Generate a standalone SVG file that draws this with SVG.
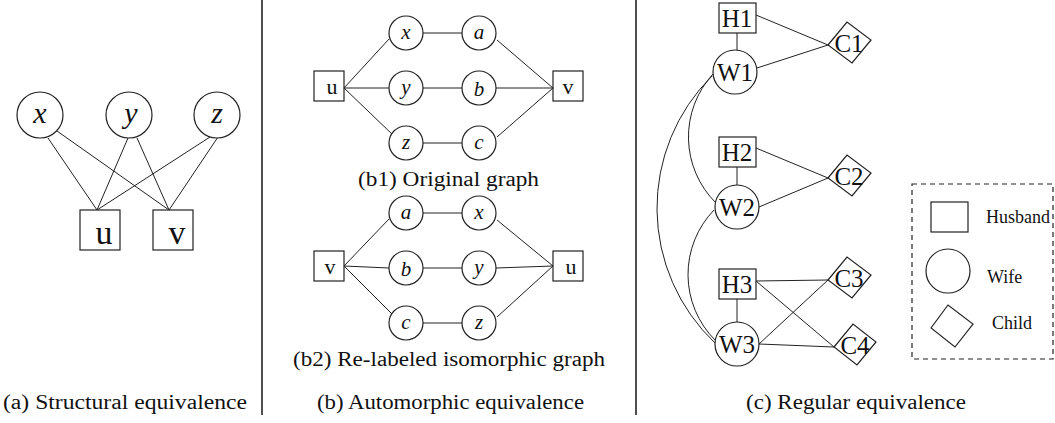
<svg xmlns="http://www.w3.org/2000/svg" width="1055" height="423" viewBox="0 0 1055 423">
<style>
.bg{fill:#fff}
.n{fill:#fff;stroke:#222;stroke-width:1.2}
.e{stroke:#222;stroke-width:1;fill:none}
.div{stroke:#222;stroke-width:1.6}
.t{font-family:"Liberation Serif","Times New Roman",serif;fill:#111;text-anchor:middle}
.i{font-style:italic}
.cap{font-family:"Liberation Serif","Times New Roman",serif;fill:#111;font-size:20px}
.leg{font-family:"Liberation Serif","Times New Roman",serif;fill:#111;font-size:18px}
</style>
<rect class="bg" x="0" y="0" width="1055" height="423"/>
<g id="dividers">
<line class="div" x1="262" y1="0" x2="262" y2="415"/>
<line class="div" x1="636" y1="0" x2="636" y2="415"/>
</g>
<g id="connectors">
<line class="e" x1="48" y1="138" x2="97" y2="210"/>
<line class="e" x1="57" y1="131" x2="169" y2="210"/>
<line class="e" x1="128" y1="138" x2="97" y2="210"/>
<line class="e" x1="137" y1="138" x2="169" y2="210"/>
<line class="e" x1="210" y1="137" x2="97" y2="210"/>
<line class="e" x1="218" y1="137" x2="169" y2="210"/>
<line class="e" x1="344" y1="88" x2="389" y2="39"/>
<line class="e" x1="344" y1="88" x2="389" y2="88"/>
<line class="e" x1="344" y1="88" x2="393" y2="135"/>
<line class="e" x1="423" y1="33" x2="462" y2="33"/>
<line class="e" x1="423" y1="88" x2="462" y2="88"/>
<line class="e" x1="423" y1="143" x2="462" y2="143"/>
<line class="e" x1="497" y1="40" x2="553" y2="88"/>
<line class="e" x1="496" y1="88" x2="553" y2="88"/>
<line class="e" x1="497" y1="137" x2="553" y2="88"/>
<line class="e" x1="344" y1="266" x2="389" y2="219"/>
<line class="e" x1="344" y1="266" x2="389" y2="268"/>
<line class="e" x1="344" y1="266" x2="393" y2="315"/>
<line class="e" x1="423" y1="213" x2="462" y2="213"/>
<line class="e" x1="423" y1="268" x2="462" y2="268"/>
<line class="e" x1="423" y1="323" x2="462" y2="323"/>
<line class="e" x1="497" y1="220" x2="553" y2="266"/>
<line class="e" x1="496" y1="268" x2="553" y2="266"/>
<line class="e" x1="497" y1="317" x2="553" y2="266"/>
<line class="e" x1="737" y1="33" x2="737" y2="50"/>
<line class="e" x1="737" y1="167" x2="737" y2="185"/>
<line class="e" x1="737" y1="299" x2="737" y2="322"/>
<line class="e" x1="756" y1="15" x2="828" y2="45"/>
<line class="e" x1="757" y1="68" x2="828" y2="45"/>
<line class="e" x1="756" y1="148" x2="828" y2="178"/>
<line class="e" x1="759" y1="207" x2="828" y2="178"/>
<line class="e" x1="756" y1="281" x2="828" y2="280"/>
<line class="e" x1="756" y1="281" x2="834" y2="347"/>
<line class="e" x1="759" y1="344" x2="828" y2="280"/>
<line class="e" x1="759" y1="344" x2="834" y2="347"/>
<path class="e" d="M713,74 A93,93 0 0 0 716,203"/>
<path class="e" d="M714,210 A93,93 0 0 0 715,340"/>
<path class="e" d="M712,76 A186,186 0 0 0 715,343"/>
</g>
<g id="node-a-x"><circle class="n" cx="40" cy="115" r="23"/><text class="t i" x="40" y="123" font-size="30">x</text></g>
<g id="node-a-y"><circle class="n" cx="129" cy="115" r="23"/><text class="t i" x="131" y="123" font-size="30">y</text></g>
<g id="node-a-z"><circle class="n" cx="217" cy="115" r="23"/><text class="t i" x="217" y="123" font-size="30">z</text></g>
<g id="node-a-u"><rect class="n" x="80" y="210" width="40" height="40"/><text class="t" x="104" y="244" font-size="34">u</text></g>
<g id="node-a-v"><rect class="n" x="153" y="210" width="40" height="40"/><text class="t" x="177" y="244" font-size="34">v</text></g>
<g id="node-b1-u"><rect class="n" x="314" y="71" width="30" height="30"/><text class="t" x="332" y="94" font-size="22">u</text></g>
<g id="node-b1-v"><rect class="n" x="553" y="71" width="30" height="30"/><text class="t" x="568" y="94" font-size="22">v</text></g>
<g id="node-b1-x"><circle class="n" cx="406" cy="33" r="17"/><text class="t i" x="406" y="39" font-size="21">x</text></g>
<g id="node-b1-a"><circle class="n" cx="479" cy="33" r="17"/><text class="t i" x="479" y="39" font-size="21">a</text></g>
<g id="node-b1-y"><circle class="n" cx="406" cy="88" r="17"/><text class="t i" x="406" y="94" font-size="21">y</text></g>
<g id="node-b1-b"><circle class="n" cx="479" cy="88" r="17"/><text class="t i" x="479" y="96" font-size="21">b</text></g>
<g id="node-b1-z"><circle class="n" cx="406" cy="143" r="17"/><text class="t i" x="406" y="149" font-size="21">z</text></g>
<g id="node-b1-c"><circle class="n" cx="479" cy="143" r="17"/><text class="t i" x="479" y="149" font-size="21">c</text></g>
<text class="cap" x="358" y="186" textLength="181" lengthAdjust="spacingAndGlyphs">(b1) Original graph</text>
<g id="node-b2-v"><rect class="n" x="314" y="251" width="30" height="30"/><text class="t" x="330" y="274" font-size="22">v</text></g>
<g id="node-b2-u"><rect class="n" x="553" y="251" width="30" height="30"/><text class="t" x="571" y="274" font-size="22">u</text></g>
<g id="node-b2-a"><circle class="n" cx="406" cy="213" r="17"/><text class="t i" x="406" y="219" font-size="21">a</text></g>
<g id="node-b2-x"><circle class="n" cx="479" cy="213" r="17"/><text class="t i" x="479" y="219" font-size="21">x</text></g>
<g id="node-b2-b"><circle class="n" cx="406" cy="268" r="17"/><text class="t i" x="406" y="276" font-size="21">b</text></g>
<g id="node-b2-y"><circle class="n" cx="479" cy="268" r="17"/><text class="t i" x="479" y="274" font-size="21">y</text></g>
<g id="node-b2-c"><circle class="n" cx="406" cy="323" r="17"/><text class="t i" x="406" y="329" font-size="21">c</text></g>
<g id="node-b2-z"><circle class="n" cx="479" cy="323" r="17"/><text class="t i" x="479" y="329" font-size="21">z</text></g>
<text class="cap" x="293" y="366" textLength="312" lengthAdjust="spacingAndGlyphs">(b2) Re-labeled isomorphic graph</text>
<g id="node-H1"><rect class="n" x="719" y="3" width="37" height="30"/><text class="t" x="737" y="27" font-size="25">H1</text></g>
<g id="node-W1"><circle class="n" cx="735" cy="72" r="22"/><text class="t" x="735" y="81" font-size="25">W1</text></g>
<g id="node-C1"><polygon class="n" points="828,45 847,22 871,40 852,63"/><text class="t" x="849" y="52" font-size="25">C1</text></g>
<g id="node-H2"><rect class="n" x="719" y="137" width="37" height="30"/><text class="t" x="737" y="161" font-size="25">H2</text></g>
<g id="node-W2"><circle class="n" cx="737" cy="207" r="22"/><text class="t" x="737" y="216" font-size="25">W2</text></g>
<g id="node-C2"><polygon class="n" points="828,178 847,155 871,173 852,196"/><text class="t" x="849" y="185" font-size="25">C2</text></g>
<g id="node-H3"><rect class="n" x="719" y="269" width="37" height="30"/><text class="t" x="737" y="293" font-size="25">H3</text></g>
<g id="node-W3"><circle class="n" cx="737" cy="344" r="22"/><text class="t" x="737" y="353" font-size="25">W3</text></g>
<g id="node-C3"><polygon class="n" points="828,280 847,257 871,275 852,298"/><text class="t" x="849" y="287" font-size="25">C3</text></g>
<g id="node-C4"><polygon class="n" points="834,347 853,324 876,342 857,365"/><text class="t" x="855" y="354" font-size="25">C4</text></g>
<g id="legend">
<rect x="912" y="184" width="141" height="175" fill="none" stroke="#222" stroke-width="1.2" stroke-dasharray="5,4"/>
<rect class="n" x="931" y="202" width="37" height="30"/>
<text class="leg" x="986" y="223">Husband</text>
<circle class="n" cx="948" cy="271" r="22"/>
<text class="leg" x="987" y="283">Wife</text>
<polygon class="n" points="931,328 948,305 973,324 955,347"/>
<text class="leg" x="992" y="329">Child</text>
</g>
<g id="captions">
<text class="cap" x="3" y="409" textLength="244" lengthAdjust="spacingAndGlyphs">(a) Structural equivalence</text>
<text class="cap" x="317" y="409" textLength="267" lengthAdjust="spacingAndGlyphs">(b) Automorphic equivalence</text>
<text class="cap" x="746" y="409" textLength="220" lengthAdjust="spacingAndGlyphs">(c) Regular equivalence</text>
</g>
</svg>
